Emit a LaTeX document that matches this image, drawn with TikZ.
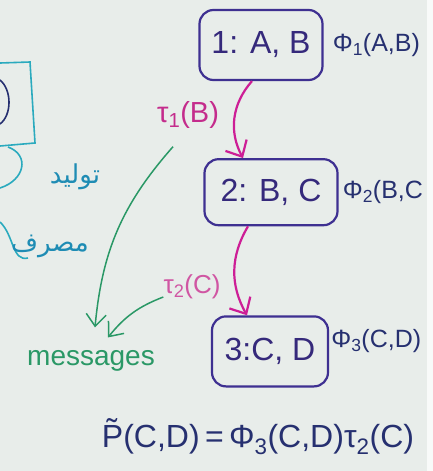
\documentclass[tikz,border=0pt]{standalone}
\usepackage{fontspec}
\setmainfont{Liberation Sans}
\newfontfamily\arabicfont[Script=Arabic]{DejaVu Sans}
\TeXXeTstate=1
\usetikzlibrary{positioning, arrows.meta}
\definecolor{paper}{RGB}{232,237,234}
\definecolor{boxpurple}{RGB}{62,48,145}
\definecolor{navyink}{RGB}{38,48,112}
\definecolor{magarrow}{RGB}{205,30,150}
\definecolor{magink}{RGB}{196,44,140}
\definecolor{greenink}{RGB}{42,152,102}
\definecolor{cyanink}{RGB}{42,170,190}
\definecolor{arabink}{RGB}{30,140,180}

\begin{document}
\begin{tikzpicture}[x=1pt, y=-1pt,
        clique/.style={draw=boxpurple, line width=2.2pt, rounded corners=14pt, text=boxpurple!85!black, font=\fontsize{32}{32}\selectfont, inner sep=0pt},
        potential/.style={text=navyink, font=\fontsize{25}{25}\selectfont, inner sep=0pt},
        msglabel/.style={text=magink, font=\fontsize{29}{29}\selectfont, inner sep=0pt},
        pass/.style={-{Straight Barb[length=13pt,width=24pt]}, line width=2.2pt, draw=magarrow},
        toward/.style={-{Straight Barb[length=12pt,width=20pt]}, line width=1.5pt, draw=greenink},
        note/.style={draw=cyanink, line width=1.6pt}
    ]
        \useasboundingbox (0,0) rectangle (433,471);
        \fill[paper] (0,0) rectangle (433,471);
        \fill[white!70!paper] (427,0) rectangle (433,471);

        % Cliques
        \node[clique, minimum width=123pt, minimum height=70pt] (b1) at (261,45) {1: A, B};
        \node[clique, minimum width=133pt, minimum height=66pt, below=77pt of b1, xshift=10pt] (b2) {2: B, C};
        \node[clique, minimum width=116pt, minimum height=70pt, below=89pt of b2, xshift=-1pt] (b3) {3:C, D};

        % Potentials
        \node[potential, right=9pt of b1] (p1) {Φ\textsubscript{1}(A,B)};
        \node[potential, right=4pt of b2] (p2) {Φ\textsubscript{2}(B,C};
        \node[potential, right=2pt of b3, yshift=10pt] (p3) {Φ\textsubscript{3}(C,D)};

        % Messages
        \draw[pass] ([xshift=-9pt]b1.south) to[bend right=35] ([xshift=-28pt]b2.north);
        \draw[pass] ([xshift=-23pt]b2.south) to[bend right=30] ([xshift=-23pt]b3.north);
        \node[msglabel] (t1) at (188,115) {τ\textsubscript{1}(B)};
        \node[msglabel, text=magink!80!white, font=\fontsize{26}{26}\selectfont] (t2) at (192,287) {τ\textsubscript{2}(C)};

        \node[text=greenink, font=\fontsize{28}{28}\selectfont, anchor=base] (msgs) at (91,365) {messages};
        \draw[toward] ([xshift=-15pt,yshift=-18pt]t1.south) to[bend right=18] ([xshift=4pt,yshift=19pt]msgs.north);
        \draw[toward] ([yshift=-10pt]t2.west) to[bend right=15] ([xshift=17pt,yshift=9pt]msgs.north);

        % Left margin notes
        \draw[note] (0,63) -- (30,62) -- (35,143) -- (0,146);
        \draw[draw=navyink, line width=1.6pt] (0,80) .. controls (12,90) and (12,115) .. (0,124);
        \draw[note] (8,147) .. controls (30,155) and (25,180) .. (0,188);
        \draw[note] (0,222) .. controls (14,235) and (12,262) .. (28,258);
        \node[text=arabink, font=\arabicfont\fontsize{26}{26}\selectfont] (w1) at (75,177) {\beginR توليد\endR};
        \node[text=arabink, font=\arabicfont\fontsize{26}{26}\selectfont] (w2) at (50,246) {\beginR مصرف\endR};

        % Result
        \node[text=navyink, font=\fontsize{32}{32}\selectfont, anchor=base] (joint) at (258,447) {\~{P}(C,D)\,=\,Φ\textsubscript{3}(C,D)τ\textsubscript{2}(C)};
    \end{tikzpicture}
\end{document}
